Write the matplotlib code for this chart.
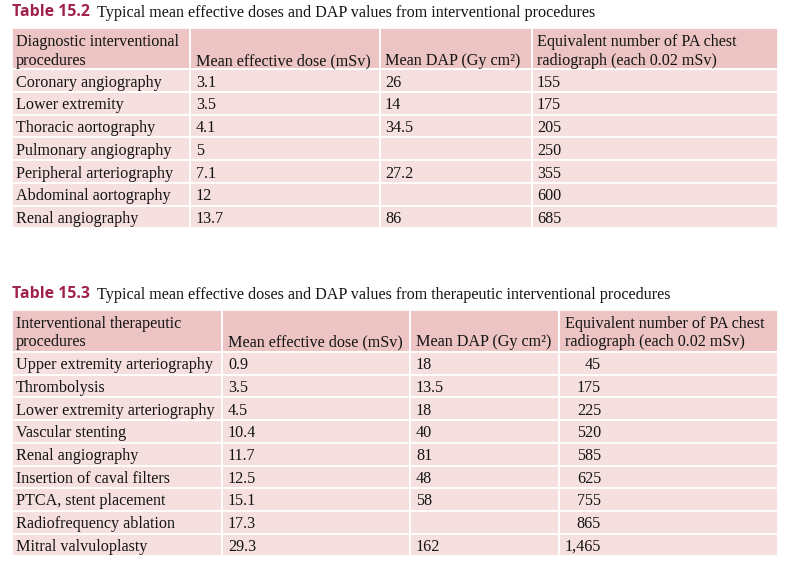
import matplotlib
matplotlib.use("Agg")
import matplotlib.pyplot as plt
from matplotlib.patches import Rectangle

# ---------------- data ----------------
t1_label = "Table 15.2"
t1_title = "Typical mean effective doses and DAP values from interventional procedures"
t1_headers = [["Diagnostic interventional", "procedures"],
              ["Mean effective dose (mSv)"],
              ["Mean DAP (Gy cm²)"],
              ["Equivalent number of PA chest", "radiograph (each 0.02 mSv)"]]
t1_procedures = ["Coronary angiography", "Lower extremity", "Thoracic aortography",
                 "Pulmonary angiography", "Peripheral arteriography",
                 "Abdominal aortography", "Renal angiography"]
t1_dose = ["3.1", "3.5", "4.1", "5", "7.1", "12", "13.7"]
t1_dap = ["26", "14", "34.5", "", "27.2", "", "86"]
t1_equiv = ["155", "175", "205", "250", "355", "600", "685"]

t2_label = "Table 15.3"
t2_title = "Typical mean effective doses and DAP values from therapeutic interventional procedures"
t2_headers = [["Interventional therapeutic", "procedures"],
              ["Mean effective dose (mSv)"],
              ["Mean DAP (Gy cm²)"],
              ["Equivalent number of PA chest", "radiograph (each 0.02 mSv)"]]
t2_procedures = ["Upper extremity arteriography", "Thrombolysis",
                 "Lower extremity arteriography", "Vascular stenting",
                 "Renal angiography", "Insertion of caval filters",
                 "PTCA, stent placement", "Radiofrequency ablation",
                 "Mitral valvuloplasty"]
t2_dose = ["0.9", "3.5", "4.5", "10.4", "11.7", "12.5", "15.1", "17.3", "29.3"]
t2_dap = ["18", "13.5", "18", "40", "81", "48", "58", "", "162"]
t2_equiv = ["45", "175", "225", "520", "585", "625", "755", "865", "1,465"]

# ---------------- style ----------------
HEAD = "#ebc4c3"
BODY = "#f6e0df"
LABEL = "#a0214a"
SERIF = "Liberation Serif"
FS = 11.6
TFS = 11.6
TXT = "#141414"

fig = plt.figure(figsize=(7.9, 5.72), dpi=100)
ax = fig.add_axes([0, 0, 1, 1])
ax.set_xlim(0, 790)
ax.set_ylim(572, 0)
ax.axis("off")


def draw_table(y_title, label, title, title_x, top, head_h, row_h,
               cols, headers, columns, text_x, align, hoff, boff):
    ax.text(12, y_title, label, fontsize=11.4, fontweight="bold",
            family="Open Sans", color=LABEL, va="center", ha="left")
    ax.text(title_x, y_title + 1, title, fontsize=TFS, family=SERIF,
            color=TXT, va="center", ha="left")
    nrows = len(columns[0])
    # header cells
    for c in range(4):
        ax.add_patch(Rectangle((cols[c], top), cols[c + 1] - cols[c], head_h,
                               facecolor=HEAD, edgecolor="white", lw=1.3))
    # body cells
    for r in range(nrows):
        y0 = top + head_h + r * row_h
        for c in range(4):
            ax.add_patch(Rectangle((cols[c], y0), cols[c + 1] - cols[c], row_h,
                                   facecolor=BODY, edgecolor="white", lw=1.3))
    # header text
    for c, lines in enumerate(headers):
        n = len(lines)
        for i, line in enumerate(lines):
            y = top + head_h - hoff - (n - 1 - i) * 19
            ax.text(text_x[c], y, line, fontsize=FS, family=SERIF,
                    color=TXT, va="center", ha="left")
    # body text
    for c, col in enumerate(columns):
        for r, val in enumerate(col):
            y = top + head_h + r * row_h + row_h / 2 + boff
            ax.text(text_x[c] if align[c] == "left" else align[c], y, val,
                    fontsize=FS, family=SERIF, color=TXT, va="center",
                    ha="left" if align[c] == "left" else "right")


draw_table(12, t1_label, t1_title, 97, 28, 41, 22.75,
           [12, 190, 380, 532, 778], t1_headers,
           [t1_procedures, t1_dose, t1_dap, t1_equiv],
           [16, 196, 385, 537], ["left", "left", "left", "left"], 8.0, 2.2)

draw_table(294, t2_label, t2_title, 97, 310, 42, 22.7,
           [12, 222, 410, 559, 778], t2_headers,
           [t2_procedures, t2_dose, t2_dap, t2_equiv],
           [16, 228, 416, 565], ["left", "left", "left", 601], 9.5, 1.8)

fig.savefig("out.png", dpi=100)
